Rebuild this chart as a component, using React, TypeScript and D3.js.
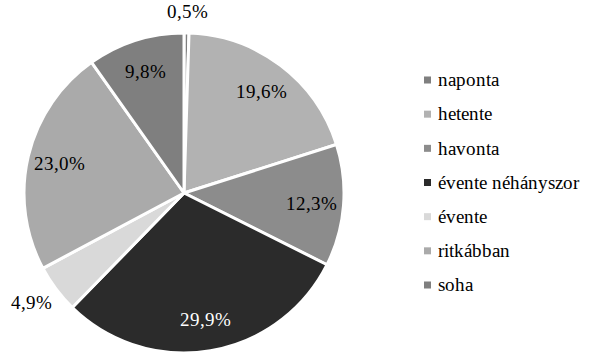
import React from "react";
import * as d3 from "d3";

const categories = ["naponta", "hetente", "havonta", "évente néhányszor", "évente", "ritkábban", "soha"];
const values = [0.5, 19.6, 12.3, 29.9, 4.9, 23.0, 9.8];
const colors = ["#7f7f7f", "#b2b2b2", "#8c8c8c", "#2b2b2b", "#d9d9d9", "#aaaaaa", "#7f7f7f"];
const labelColors = ["#000", "#000", "#000", "#fff", "#000", "#000", "#000"];

const W = 590;
const H = 354;
const cx = 184;
const cy = 193;
const R = 160;
const FS = 19;
const FONT = "ChartSerif, 'Liberation Serif', Tinos, 'Times New Roman', serif";

function fmt(v: number) {
  return v.toFixed(1).replace(".", ",") + "%";
}

export default function App() {
  const pie = d3.pie<number>().sort(null).value((d) => d);
  const arcs = pie(values);
  const arc = d3.arc<d3.PieArcDatum<number>>().innerRadius(0).outerRadius(R);
  const labelArc = d3.arc<d3.PieArcDatum<number>>().innerRadius(R * 0.8).outerRadius(R * 0.8);
  const legendY = d3.scalePoint<string>().domain(categories).range([80, 285]);

  return (
    <div>
      <style>{`@font-face { font-family: "ChartSerif"; src: local("Liberation Serif"), local("LiberationSerif"), local("LiberationSerif-Regular"); }
svg.pie text { font-family: ${FONT}; }`}</style>
      <svg className="pie" width={W} height={H} style={{ position: "absolute", left: 0, top: 0 }}>
        <g transform={`translate(${cx},${cy})`}>
          {arcs.map((a, i) => (
            <path key={i} d={arc(a) || ""} fill={colors[i]} stroke="#fff" strokeWidth={3} strokeLinejoin="round" />
          ))}
          {arcs.map((a, i) => {
            const txt = fmt(values[i]);
            const mid = (a.startAngle + a.endAngle) / 2;
            let x: number, y: number;
            if (values[i] < 6) {
              const ux = Math.sin(mid);
              const uy = -Math.cos(mid);
              const w = txt.length * FS * 0.5;
              x = ux * (R + 12) + (ux * w) / 2;
              y = uy * (R + 12) + (uy * FS) / 2;
            } else {
              [x, y] = labelArc.centroid(a);
            }
            return (
              <text key={"l" + i} x={x} y={y + FS * 0.35} textAnchor="middle" fontSize={FS} fill={labelColors[i]}>
                {txt}
              </text>
            );
          })}
        </g>
        <g>
          {categories.map((c, i) => {
            const y = legendY(c) as number;
            return (
              <g key={c}>
                <rect x={424} y={y - 3.5} width={7} height={7} fill={colors[i]} />
                <text x={438} y={y + FS * 0.33} fontSize={FS} fill="#000">
                  {c}
                </text>
              </g>
            );
          })}
        </g>
      </svg>
    </div>
  );
}
